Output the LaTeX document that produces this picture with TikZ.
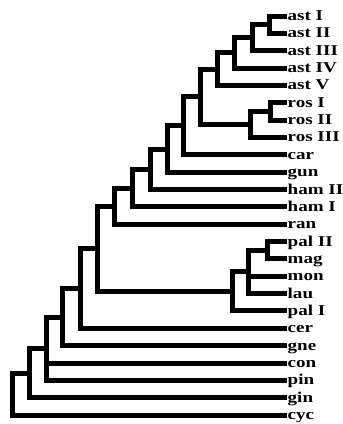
\documentclass[tikz,border=0pt]{standalone}
\usepackage{fontspec}
\setmainfont{Liberation Serif}
\usepackage{graphicx}
\usetikzlibrary{positioning,calc}

\begin{document}
\begin{tikzpicture}[x=1pt, y=-1pt,
    edge/.style={draw, line width=5pt, line join=miter},
    taxon/.style={font=\fontsize{15}{15}\selectfont\bfseries, inner sep=0pt, anchor=base west}]
  \def\tipx{287}  \def\gap{17.35}
  \useasboundingbox (0,0) rectangle (343,424);

  % leaves, top to bottom
  \foreach \n/\t [count=\i from 0] in {astI/ast I, astII/ast II, astIII/ast III,
      astIV/ast IV, astV/ast V, rosI/ros I, rosII/ros II, rosIII/ros III,
      car/car, gun/gun, hamII/ham II, hamI/ham I, ran/ran, palII/pal II,
      mag/mag, mon/mon, lau/lau, palI/pal I, cer/cer, gne/gne, con/con,
      pin/pin, gin/gin, cyc/cyc} {
    \coordinate (\n) at (\tipx, {16+\gap*\i});
    \node[taxon] (l\n) at ($(\n)+(0.5,4.5)$) {\scalebox{1.27}[1]{\t}};
  }

  % internal nodes
  \coordinate (a12)    at (269, 24.7);
  \coordinate (a123)   at (252, 37.7);
  \coordinate (a1234)  at (234, 52.9);
  \coordinate (ast)    at (217, 69.1);
  \coordinate (r12)    at (270, 111.4);
  \coordinate (ros)    at (250, 124.4);
  \coordinate (astros) at (200, 96.8);
  \coordinate (n1)     at (183, 125.8);
  \coordinate (n2)     at (167, 149.0);
  \coordinate (n3)     at (150, 169.2);
  \coordinate (n4)     at (132, 188.0);
  \coordinate (n5)     at (114, 206.1);
  \coordinate (p12)    at (267, 250.2);
  \coordinate (p3)     at (248, 271.9);
  \coordinate (pal)    at (232, 291.4);
  \coordinate (n6)     at (97, 248.8);
  \coordinate (n7)     at (80, 288.5);
  \coordinate (n8)     at (62, 317.0);
  \coordinate (n9)     at (46, 348.7);
  \coordinate (n10)    at (29, 373.2);
  \coordinate (root)   at (12, 394.1);

  \foreach \p/\c in {a12/astI, a12/astII, a123/a12, a123/astIII,
      a1234/a123, a1234/astIV, ast/a1234, ast/astV,
      r12/rosI, r12/rosII, ros/r12, ros/rosIII,
      astros/ast, astros/ros, n1/astros, n1/car, n2/n1, n2/gun,
      n3/n2, n3/hamII, n4/n3, n4/hamI, n5/n4, n5/ran,
      p12/palII, p12/mag, p3/p12, p3/mon, p3/lau, pal/p3, pal/palI,
      n6/n5, n6/pal, n7/n6, n7/cer, n8/n7, n8/gne,
      n9/n8, n9/con, n9/pin, n10/n9, n10/gin, root/n10, root/cyc}
    \draw[edge] (\p) |- (\c);
\end{tikzpicture}
\end{document}
